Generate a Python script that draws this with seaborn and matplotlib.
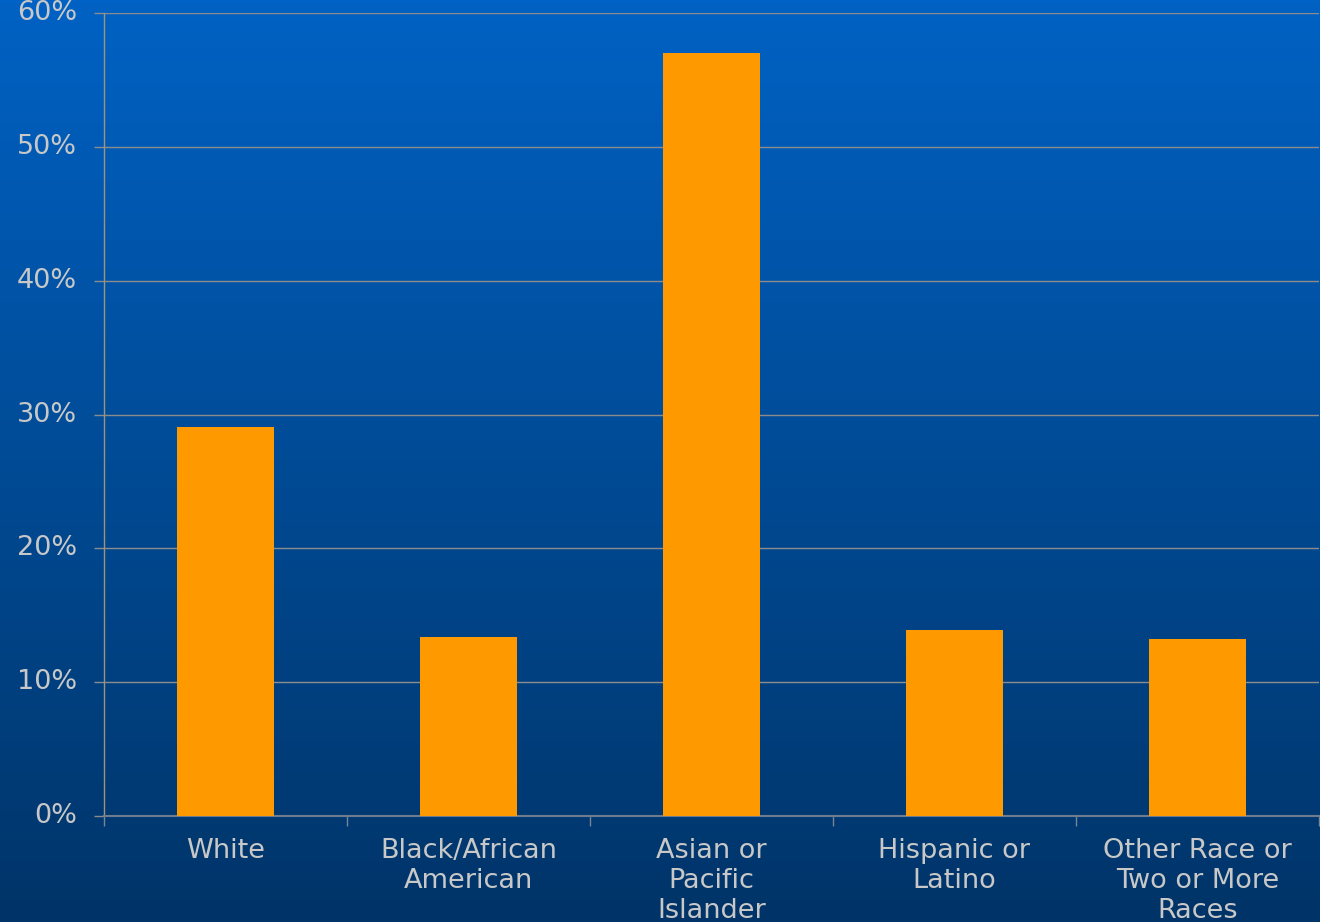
import numpy as np
import pandas as pd
import matplotlib
matplotlib.use("Agg")
import matplotlib.pyplot as plt
from matplotlib.colors import LinearSegmentedColormap
from matplotlib.ticker import FixedLocator, PercentFormatter
import seaborn as sns

categories = [
    "White",
    "Black/African\nAmerican",
    "Asian or\nPacific\nIslander",
    "Hispanic or\nLatino",
    "Other Race or\nTwo or More\nRaces",
]
shares = [29.1, 13.4, 57.0, 13.9, 13.2]
y_ticks = [0, 10, 20, 30, 40, 50, 60]

df = pd.DataFrame({"group": categories, "share": shares})

sns.set_theme(style="white")
plt.rcParams["font.family"] = ["DejaVu Sans"]

fig = plt.figure(figsize=(13.2, 9.22), dpi=100)

# vertical blue gradient behind everything
bg = fig.add_axes([0, 0, 1, 1], zorder=0)
grad = np.linspace(0, 1, 256).reshape(-1, 1)
cmap = LinearSegmentedColormap.from_list("bg", ["#0062C4", "#003468"])
bg.imshow(grad, aspect="auto", cmap=cmap, extent=[0, 1, 0, 1], origin="upper")
bg.set_axis_off()

ax = fig.add_axes([104 / 1320, 106 / 922, 1215 / 1320, 803 / 922], zorder=1)
ax.patch.set_alpha(0)

sns.barplot(data=df, x="group", y="share", color="#FF9900", width=0.40,
            saturation=1, linewidth=0, edgecolor="none", ax=ax, zorder=3)

ax.set_xlim(-0.5, len(categories) - 0.5)
ax.set_ylim(0, 60)
ax.set_xlabel("")
ax.set_ylabel("")

ax.yaxis.set_major_locator(FixedLocator(y_ticks))
ax.yaxis.set_major_formatter(PercentFormatter(decimals=0))
ax.grid(axis="y", color="#8C8C8C", linewidth=1.0, zorder=0)
ax.set_axisbelow(True)

label_color = "#C8C8C8"
ax.tick_params(axis="y", which="major", length=7.5, width=1, color="#8C8C8C",
               labelsize=19.5, labelcolor=label_color, pad=12, left=True)
ax.tick_params(axis="x", which="major", length=0, labelsize=19.5,
               labelcolor=label_color, pad=16)
ax.set_xticks(range(len(categories)))
ax.set_xticklabels(categories, linespacing=1.2, va="top")
ax.set_xticks(np.arange(-0.5, len(categories), 1.0), minor=True)
ax.tick_params(axis="x", which="minor", length=7, width=1, color="#7A8594",
               bottom=True, direction="out")

for lbl in ax.get_yticklabels():
    lbl.set_va("center")

for side in ["top", "right"]:
    ax.spines[side].set_visible(False)
ax.spines["left"].set_color("#A0937E")
ax.spines["left"].set_linewidth(1)
ax.spines["bottom"].set_color("#6E7C8E")
ax.spines["bottom"].set_linewidth(1.5)

fig.savefig("out.png", dpi=100)
